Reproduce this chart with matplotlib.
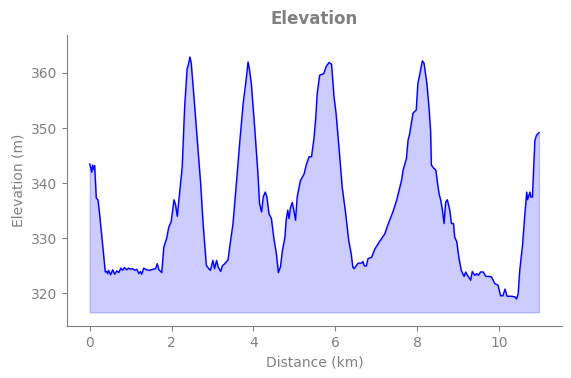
import matplotlib
matplotlib.use("Agg")
import matplotlib.pyplot as plt
import numpy as np

distance_km = [
    0.00, 0.02, 0.05, 0.07, 0.10, 0.12, 0.16, 0.20, 0.24, 0.32, 0.38, 0.41, 0.44, 0.46, 0.51,
    0.56, 0.61, 0.66, 0.71, 0.76, 0.80, 0.85, 0.90, 0.95, 1.00, 1.05, 1.10, 1.15, 1.20, 1.24,
    1.27, 1.32, 1.39, 1.46, 1.54, 1.61, 1.65, 1.69, 1.76, 1.81, 1.88, 1.93, 1.99, 2.06, 2.10,
    2.14, 2.18, 2.26, 2.32, 2.38, 2.41, 2.45, 2.48, 2.54, 2.63, 2.71, 2.77, 2.85, 2.91, 2.95,
    3.01, 3.05, 3.10, 3.14, 3.20, 3.24, 3.30, 3.38, 3.42, 3.50, 3.59, 3.67, 3.75, 3.81, 3.87,
    3.91, 3.95, 4.03, 4.11, 4.15, 4.20, 4.24, 4.29, 4.33, 4.38, 4.44, 4.50, 4.56, 4.61, 4.66,
    4.71, 4.77, 4.80, 4.84, 4.87, 4.91, 4.95, 4.99, 5.03, 5.07, 5.15, 5.24, 5.29, 5.36, 5.42,
    5.48, 5.52, 5.56, 5.62, 5.72, 5.78, 5.85, 5.91, 5.97, 6.02, 6.09, 6.17, 6.25, 6.33, 6.39,
    6.43, 6.46, 6.51, 6.56, 6.64, 6.68, 6.71, 6.76, 6.80, 6.89, 6.97, 7.09, 7.21, 7.28, 7.33,
    7.41, 7.50, 7.58, 7.62, 7.66, 7.74, 7.78, 7.82, 7.86, 7.90, 7.98, 8.02, 8.07, 8.13, 8.17,
    8.24, 8.29, 8.33, 8.35, 8.41, 8.46, 8.50, 8.54, 8.58, 8.62, 8.66, 8.70, 8.74, 8.80, 8.84,
    8.89, 8.92, 8.97, 9.02, 9.08, 9.15, 9.19, 9.23, 9.27, 9.31, 9.35, 9.41, 9.46, 9.50, 9.55,
    9.62, 9.68, 9.76, 9.82, 9.90, 9.98, 10.04, 10.10, 10.15, 10.20, 10.31, 10.39, 10.43, 10.47,
    10.51, 10.58, 10.63, 10.68, 10.70, 10.76, 10.78, 10.82, 10.88, 10.92, 10.98,
]

elevation_m = [
    343.5, 343.0, 342.0, 343.3, 342.5, 343.2, 337.3, 337.0, 334.5, 328.4, 323.9, 324.0, 323.6, 324.2, 323.4,
    324.3, 323.5, 324.1, 323.8, 324.6, 324.2, 324.7, 324.3, 324.6, 324.4, 324.5, 324.2, 324.4, 323.6, 324.0,
    323.5, 324.6, 324.3, 324.2, 324.4, 324.5, 325.4, 324.3, 323.8, 328.4, 330.0, 332.0, 333.0, 337.0, 336.0,
    334.0, 337.0, 343.0, 353.9, 360.8, 361.5, 362.9, 361.8, 356.3, 347.8, 340.0, 332.7, 325.1, 324.5, 324.2,
    326.0, 324.5, 326.0, 324.8, 324.0, 325.0, 325.4, 326.1, 328.4, 332.6, 340.5, 347.8, 354.5, 358.0, 362.0,
    360.3, 358.0, 350.2, 341.8, 336.3, 334.8, 337.5, 338.4, 337.5, 334.5, 333.6, 330.0, 327.3, 323.8, 324.8,
    327.8, 330.2, 333.3, 335.1, 333.6, 335.7, 336.5, 335.0, 333.3, 337.5, 340.5, 341.7, 343.3, 344.8, 344.8,
    348.1, 351.5, 356.3, 359.6, 359.9, 361.2, 361.9, 361.6, 355.7, 352.7, 346.6, 339.3, 334.8, 329.6, 327.2,
    324.8, 324.5, 325.0, 325.5, 325.5, 325.8, 325.0, 325.0, 326.3, 326.6, 328.1, 329.5, 330.8, 332.3, 333.3,
    334.8, 336.9, 339.3, 340.5, 342.4, 344.5, 347.8, 349.0, 350.8, 352.7, 353.3, 358.1, 359.9, 362.2, 361.8,
    358.1, 353.9, 349.6, 343.3, 342.7, 342.4, 340.0, 338.0, 336.9, 335.1, 332.7, 336.6, 337.0, 335.1, 332.7,
    332.7, 330.2, 329.4, 326.6, 324.2, 323.1, 323.9, 323.3, 322.9, 322.4, 324.0, 323.3, 323.6, 323.3, 323.9,
    323.9, 323.1, 323.1, 323.0, 321.8, 321.5, 319.6, 319.6, 320.8, 319.5, 319.5, 319.4, 319.0, 319.9,
    324.2, 328.9, 333.9, 338.4, 337.0, 338.4, 337.5, 337.5, 347.8, 348.7, 349.2,
]

x = np.array(distance_km)
y = np.array(elevation_m)
baseline = y.min() - 2.4

gray = "#808080"
fig = plt.figure(figsize=(5.71, 3.78), dpi=100)
ax = fig.add_axes([0.117, 0.1376, 0.867, 0.770])

ax.plot(x, y, color="blue", linewidth=1)
ax.fill_between(x, y, baseline, color="blue", alpha=0.2)

ax.set_xlim(-0.56, 11.54)
ax.set_ylim(314.1, 366.9)
ax.set_xticks([0, 2, 4, 6, 8, 10])
ax.set_yticks([320, 330, 340, 350, 360])

ax.set_title("Elevation", color=gray, fontsize=12, fontweight="bold", pad=8)
ax.set_xlabel("Distance (km)", color=gray, fontsize=10)
ax.set_ylabel("Elevation (m)", color=gray, fontsize=10)

for s in ["top", "right"]:
    ax.spines[s].set_visible(False)
for s in ["left", "bottom"]:
    ax.spines[s].set_color(gray)
ax.tick_params(colors=gray, labelsize=10)

fig.savefig("out.png", dpi=100)
